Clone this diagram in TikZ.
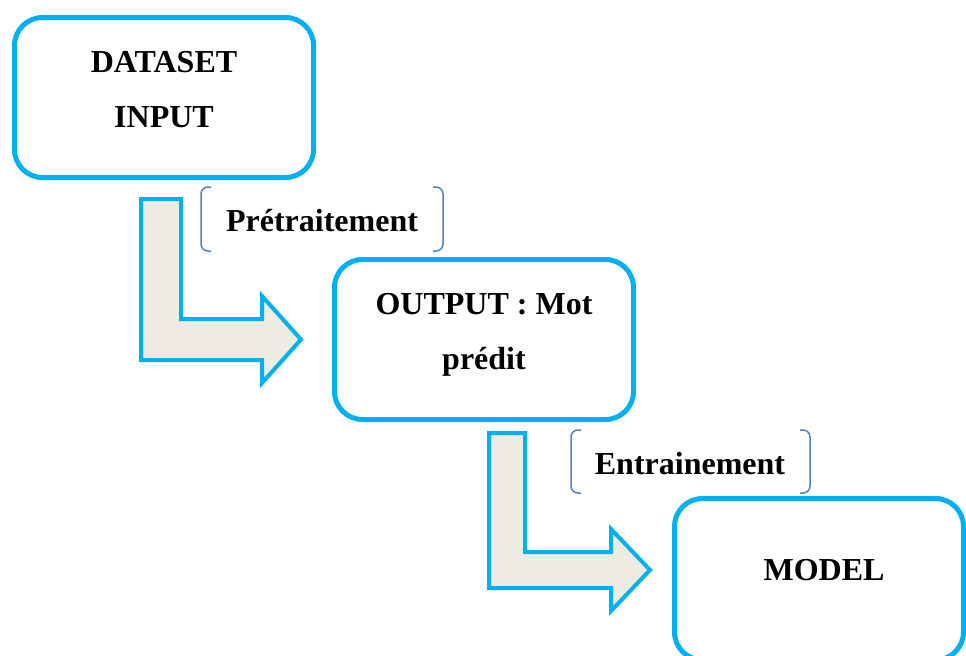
\documentclass[tikz,border=0pt]{standalone}
\usepackage{fontspec}
\setmainfont{Liberation Serif}
\definecolor{boxcyan}{HTML}{00B0F0}
\definecolor{arrowfill}{HTML}{EEECE1}
\definecolor{bracketblue}{HTML}{4F81BD}
\begin{document}
\begin{tikzpicture}[x=0.5pt,y=-0.5pt,
  stagebox/.style={draw=boxcyan,line width=2.5pt,rounded corners=14pt,fill=white},
  stagetext/.style={inner sep=0pt,align=center,font=\fontsize{16}{27.5}\selectfont\bfseries},
  steptext/.style={inner sep=0pt,font=\fontsize{16}{19}\selectfont\bfseries},
  bentarrow/.style={draw=boxcyan,line width=2pt,fill=arrowfill,line join=miter},
  brace/.style={draw=bracketblue,line width=0.75pt,rounded corners=3.5pt}]
\useasboundingbox (0,0) rectangle (966,655);
\clip (0,0) rectangle (966,655);

% stage boxes
\draw[stagebox] (14.5,17.5) rectangle (313.5,177.5);
\draw[stagebox] (334.5,259.5) rectangle (633.5,419.5);
\draw[stagebox] (674.5,498.5) rectangle (963.5,660);

\node[stagetext] (input)  at (164,90)  {DATASET\\INPUT};
\node[stagetext] (output) at (484,335) {OUTPUT : Mot\\prédit};
\node[stagetext] (model)  at (824,570) {MODEL};

% bent arrows between stages
\draw[bentarrow] (141,199) -- (181,199) -- (181,319) -- (262,319) -- (262,296)
  -- (301,339.5) -- (262,383) -- (262,360) -- (141,360) -- cycle;
\draw[bentarrow] (489,433) -- (525,433) -- (525,552) -- (611,552) -- (611,529)
  -- (650,570) -- (611,611) -- (611,588) -- (489,588) -- cycle;

% step labels with their brackets
\node[steptext] (pre)   at (322,221)   {Prétraitement};
\node[steptext] (train) at (690,463.5) {Entrainement};

\draw[brace] (211,187) -- (201,187) -- (201,251) -- (211,251);
\draw[brace] (433,187) -- (443,187) -- (443,251) -- (433,251);
\draw[brace] (581,430) -- (571,430) -- (571,493) -- (581,493);
\draw[brace] (800,430) -- (810,430) -- (810,493) -- (800,493);
\end{tikzpicture}
\end{document}
